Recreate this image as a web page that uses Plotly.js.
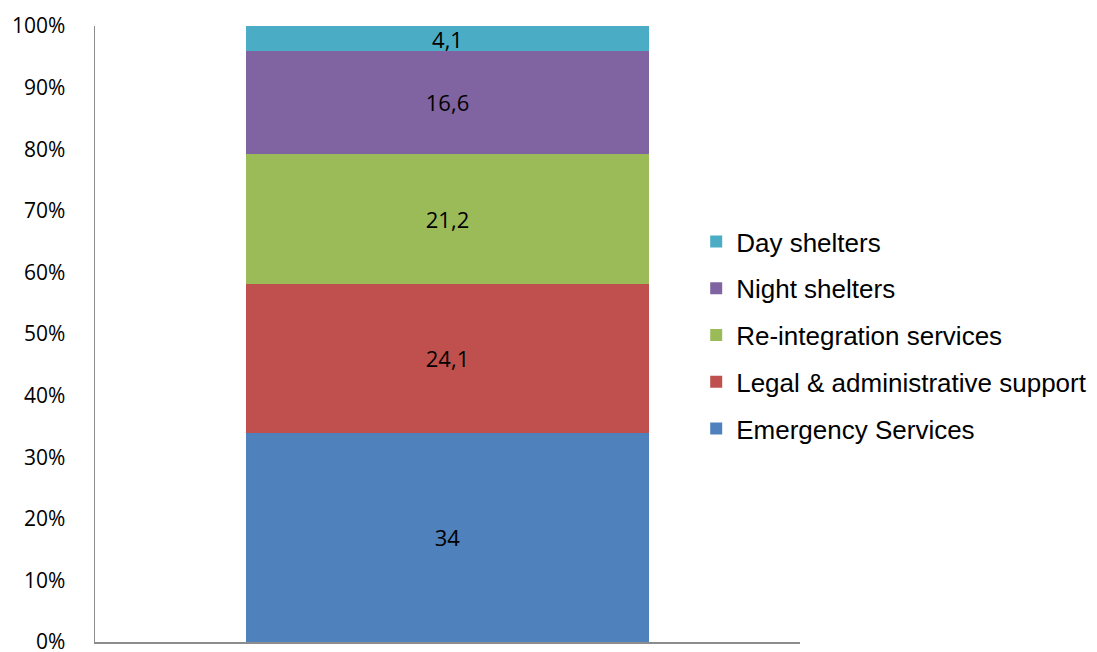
<!DOCTYPE html>
<html>
<head>
<meta charset="utf-8">
<script src="https://cdn.plot.ly/plotly-3.0.1.min.js"></script>
<style>html,body{margin:0;padding:0;background:#fff;}#chart{width:1097px;height:652px;}</style>
</head>
<body>
<div id="chart"></div>
<script>
var category = [''];
var seriesNames = ['Emergency Services', 'Legal & administrative support', 'Re-integration services', 'Night shelters', 'Day shelters'];
var emergencyServices = [34];
var legalSupport = [24.1];
var reintegration = [21.2];
var nightShelters = [16.6];
var dayShelters = [4.1];
var seriesValues = [emergencyServices, legalSupport, reintegration, nightShelters, dayShelters];
var colors = ['#4F81BD', '#C0504D', '#9BBB59', '#8064A2', '#4BACC6'];
var yTickVals = [0, 10, 20, 30, 40, 50, 60, 70, 80, 90, 100];
var yTickText = ['0%', '10%', '20%', '30%', '40%', '50%', '60%', '70%', '80%', '90%', '100%'];

var traces = seriesNames.map(function (name, i) {
  return {
    type: 'bar',
    name: name,
    x: category,
    y: seriesValues[i],
    width: 0.573,
    legendgroup: 'g' + i,
    legendrank: seriesNames.length - i,
    marker: {color: colors[i], line: {width: 0}},
    text: seriesValues[i].map(function (v) { return String(v).replace('.', ','); }),
    textposition: 'inside',
    insidetextanchor: 'middle',
    textangle: 0,
    constraintext: 'none',
    cliponaxis: false,
    textfont: {family: 'Open Sans, Liberation Sans, sans-serif', size: 22, color: '#000'},
    hoverinfo: 'none'
  };
});

// paper spans x 95..1097 (1002px); plot area x 95..800
var layout = {
  width: 1097,
  height: 652,
  margin: {l: 95, r: 0, t: 26, b: 10},
  paper_bgcolor: '#fff',
  plot_bgcolor: '#fff',
  barmode: 'stack',
  showlegend: true,
  uniformtext: {mode: 'show', minsize: 22},
  legend: {
    x: 0.6,
    xanchor: 'left',
    y: 0.4976, yanchor: 'middle',
    traceorder: 'grouped',
    tracegroupgap: 10,
    font: {family: 'Liberation Sans, Arial, sans-serif', size: 26, color: '#000'},
    bgcolor: 'rgba(0,0,0,0)'
  },
  xaxis: {
    type: 'category',
    domain: [0, 0.7036],
    range: [-0.5, 0.5],
    showline: true, linecolor: '#8c8c8c', linewidth: 1.5,
    showticklabels: false, ticks: '', showgrid: false, zeroline: false
  },
  yaxis: {
    range: [0, 100],
    tickvals: yTickVals,
    ticktext: yTickText,
    showline: true, linecolor: '#8c8c8c', linewidth: 1.5,
    ticks: '', showgrid: false, zeroline: false,
    ticklabelstandoff: 24,
    ticklabeloverflow: 'allow',
    tickfont: {family: 'Open Sans, Liberation Sans, sans-serif', size: 21, color: '#000'}
  }
};

Plotly.newPlot('chart', traces, layout, {displayModeBar: false, staticPlot: true});
</script>
</body>
</html>
